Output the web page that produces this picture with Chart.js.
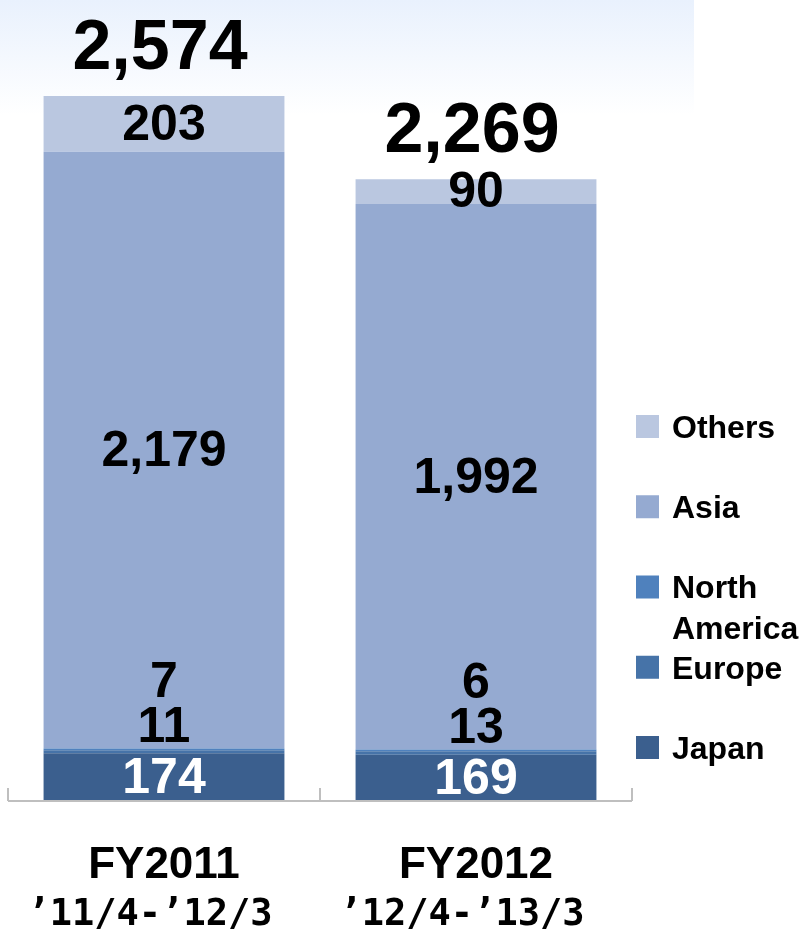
<!DOCTYPE html>
<html>
<head>
<meta charset="utf-8">
<script src="https://cdn.jsdelivr.net/npm/chart.js@4"></script>
<style>
  html, body { margin: 0; padding: 0; background: #fff; }
  #wrap { width: 802px; height: 932px; }
</style>
</head>
<body>
<div id="wrap"><canvas id="grafica" width="802" height="932"></canvas></div>
<script>
// ventas por región (unidades)
const periodos = ['FY2011', 'FY2012'];
const rangos = ['’11/4-’12/3', '’12/4-’13/3'];
const japan = [174, 169];
const europe = [11, 13];
const northAmerica = [7, 6];
const asia = [2179, 1992];
const others = [203, 90];
const totales = [2574, 2269];

const fmt = v => v.toLocaleString('en-US');
const BOLD = '"Liberation Sans", Arial, sans-serif';

// franja azul clara detrás del total de la izquierda
const fondo = {
    id: 'fondo',
    beforeDraw(chart) {
        const { ctx } = chart;
        const g = ctx.createLinearGradient(0, 0, 0, 115);
        g.addColorStop(0, 'rgb(233,241,253)');
        g.addColorStop(1, 'rgba(255,255,255,1)');
        ctx.save();
        ctx.fillStyle = g;
        ctx.fillRect(0, 0, 694, 115);
        ctx.restore();
    }
};

const etiquetas = {
    id: 'etiquetas',
    afterDatasetsDraw(chart) {
        const { ctx, chartArea } = chart;
        const xScale = chart.scales.x;
        const sets = chart.data.datasets;
        ctx.save();
        ctx.textAlign = 'center';
        ctx.textBaseline = 'middle';

        // valores dentro de cada tramo
        ctx.font = `bold 50px ${BOLD}`;
        sets.forEach((ds, d) => {
            chart.getDatasetMeta(d).data.forEach((bar, i) => {
                let y = (bar.y + bar.base) / 2;
                if (ds.shift) y = bar.y - ds.shift;
                ctx.fillStyle = ds.labelColor;
                ctx.fillText(fmt(ds.data[i]), bar.x, y + 2);
            });
        });

        // totales encima de cada barra
        const top = chart.getDatasetMeta(sets.length - 1).data;
        ctx.font = `bold 70px ${BOLD}`;
        ctx.fillStyle = '#000';
        ctx.textBaseline = 'alphabetic';
        totales.forEach((t, i) => {
            ctx.fillText(fmt(t), top[i].x - 4, top[i].y - 27);
        });

        // eje x con marcas hacia arriba
        const base = chartArea.bottom;
        const marcas = [xScale.left];
        for (let i = 1; i < periodos.length; i++) {
            marcas.push((xScale.getPixelForValue(i - 1) + xScale.getPixelForValue(i)) / 2);
        }
        marcas.push(xScale.right);
        ctx.strokeStyle = '#bfbfbf';
        ctx.lineWidth = 2;
        ctx.beginPath();
        ctx.moveTo(xScale.left, base);
        ctx.lineTo(xScale.right, base);
        marcas.forEach(m => {
            ctx.moveTo(m, base);
            ctx.lineTo(m, base - 13);
        });
        ctx.stroke();

        // etiquetas de categoría en dos líneas
        periodos.forEach((p, i) => {
            const x = xScale.getPixelForValue(i);
            ctx.font = `bold 44px ${BOLD}`;
            ctx.fillText(p, x, base + 77);
            ctx.font = 'bold 37px "DejaVu Sans Mono", monospace';
            ctx.fillText(rangos[i], x - 14, base + 124);
        });

        // leyenda a la derecha, de arriba (Others) a abajo (Japan)
        const lx = chartArea.right + 4;
        const tx = lx + 36;
        ctx.textAlign = 'left';
        ctx.textBaseline = 'middle';
        ctx.font = `bold 32px ${BOLD}`;
        const n = sets.length;
        for (let k = 0; k < n; k++) {
            const ds = sets[n - 1 - k];
            const sy = base - 65 - (n - 1 - k) * 80.25;
            ctx.fillStyle = ds.backgroundColor;
            ctx.fillRect(lx, sy, 23, 23);
            ctx.fillStyle = '#000';
            // partir el texto si no cabe
            const lines = [];
            let line = '';
            ds.label.split(' ').forEach(w => {
                const t = line ? line + ' ' + w : w;
                if (line && ctx.measureText(t).width > chart.width - tx) {
                    lines.push(line);
                    line = w;
                } else {
                    line = t;
                }
            });
            lines.push(line);
            lines.forEach((l, j) => ctx.fillText(l, tx, sy + 14 + j * 41));
        }
        ctx.restore();
    }
};

const init = () => {
    const canva = document.getElementById('grafica').getContext('2d');
    const barra = { barPercentage: 0.772, categoryPercentage: 1.0, borderWidth: 0 };
    new Chart(canva, {
        type: 'bar',
        data: {
            labels: periodos,
            datasets: [
                { ...barra, label: 'Japan', data: japan, backgroundColor: '#3b5f8e', labelColor: '#fff' },
                { ...barra, label: 'Europe', data: europe, backgroundColor: '#4673a8', labelColor: '#000', shift: 24 },
                { ...barra, label: 'North America', data: northAmerica, backgroundColor: '#4f81bd', labelColor: '#000', shift: 67 },
                { ...barra, label: 'Asia', data: asia, backgroundColor: '#95aad1', labelColor: '#000' },
                { ...barra, label: 'Others', data: others, backgroundColor: '#bac7e0', labelColor: '#000' }
            ]
        },
        options: {
            responsive: false,
            animation: false,
            layout: { padding: { left: 8, right: 170, top: 89, bottom: 131 } },
            scales: {
                x: { display: false, stacked: true },
                y: { display: false, stacked: true, min: 0, max: 2600 }
            },
            plugins: {
                legend: { display: false },
                tooltip: { enabled: false }
            }
        },
        plugins: [fondo, etiquetas]
    });
};

document.addEventListener('DOMContentLoaded', () => {
    init()
})
</script>
</body>
</html>
